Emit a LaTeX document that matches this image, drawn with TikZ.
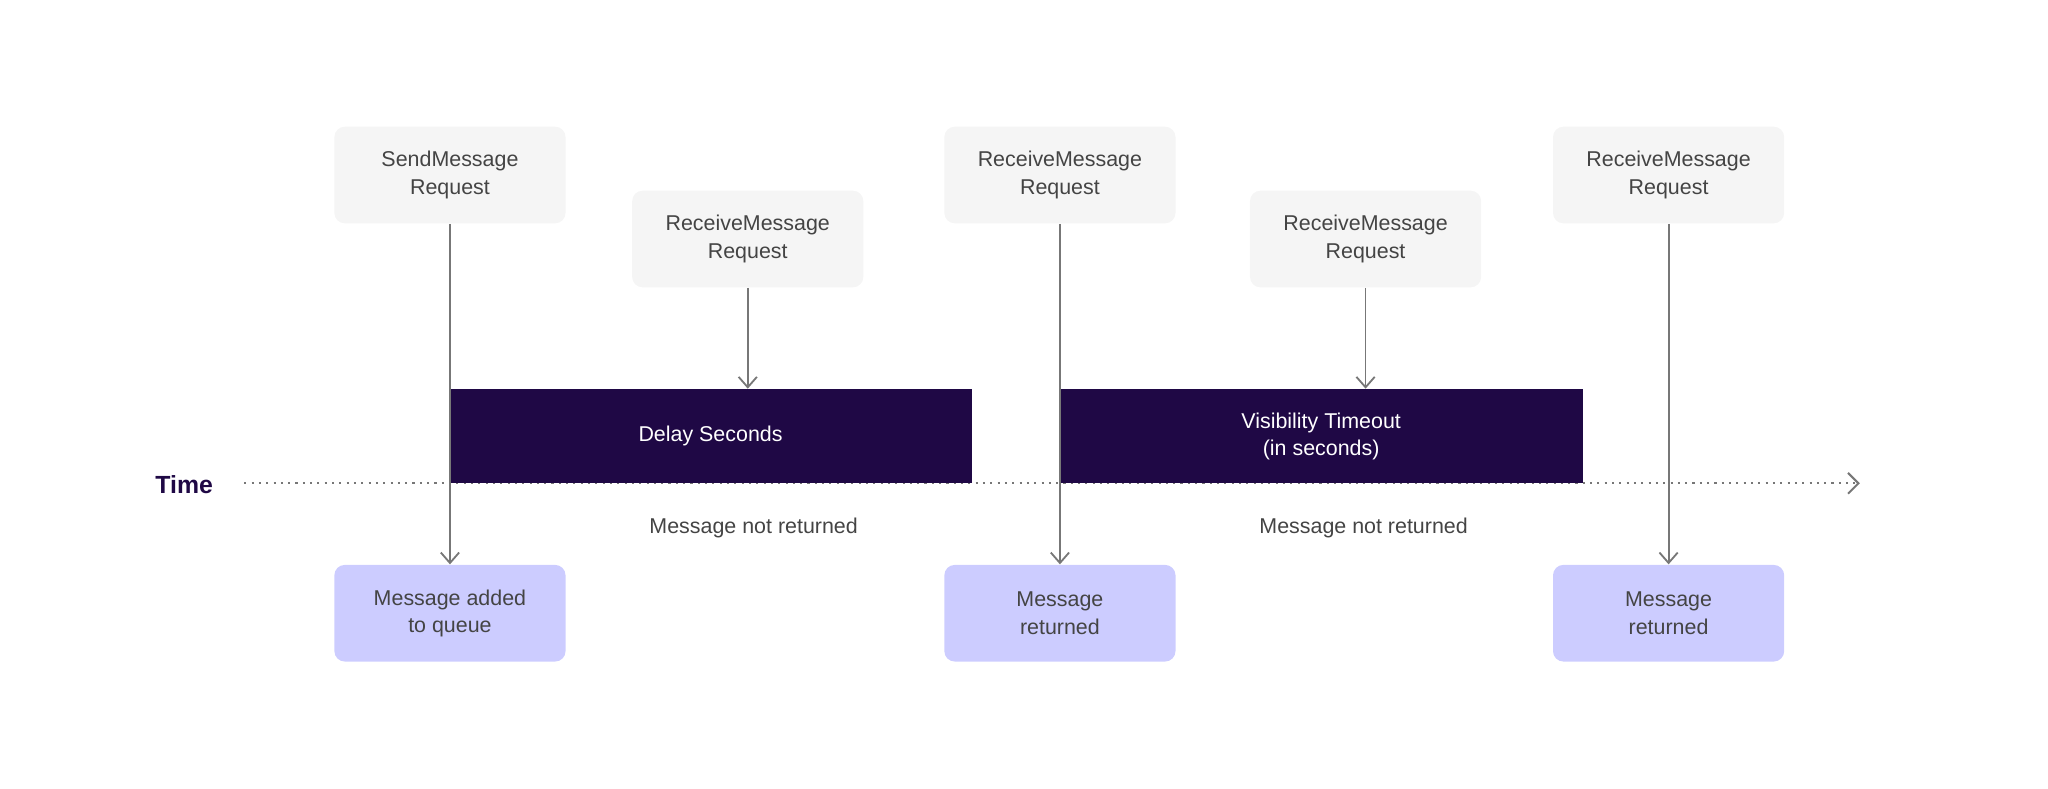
\documentclass[tikz,border=0pt]{standalone}
\usepackage{fontspec}
\setmainfont{Liberation Sans}
\usetikzlibrary{arrows.meta}
\definecolor{req}{HTML}{F5F5F5}
\definecolor{res}{HTML}{CCCCFF}
\definecolor{bar}{HTML}{1F0845}
\definecolor{txt}{HTML}{444444}
\definecolor{ln}{HTML}{777777}
\begin{document}
\begin{tikzpicture}[x=0.5pt,y=-0.5pt,
  box/.style={rounded corners=4pt,minimum width=88.5pt,minimum height=37pt,align=center,text=txt,font=\fontsize{8.2pt}{10.5pt}\selectfont,inner sep=0pt},
  rq/.style={box,fill=req},
  rs/.style={box,fill=res},
  barb/.style={fill=bar,minimum height=36pt,inner sep=0pt,align=center,text=white,font=\fontsize{8.2pt}{10.5pt}\selectfont},
  arr/.style={draw=ln,line width=0.7pt,-{Straight Barb[length=4pt,width=7pt]}},
  lbl/.style={text=txt,font=\fontsize{8.2pt}{10pt}\selectfont}]
\useasboundingbox (0,0) rectangle (1568,604);
\node[rq] (s1) at (344.5,134) {SendMessage\\Request};
\node[rq] (r2) at (572.5,183) {ReceiveMessage\\Request};
\node[rq] (r3) at (811.5,134) {ReceiveMessage\\Request};
\node[rq] (r4) at (1045.5,183) {ReceiveMessage\\Request};
\node[rq] (r5) at (1277.5,134) {ReceiveMessage\\Request};
\node[rs] (b1) at (344.5,469.5) {Message added\\to queue};
\node[rs] (b2) at (811.5,469.5) {Message\\returned};
\node[rs] (b3) at (1277.5,469.5) {Message\\returned};
\coordinate (t0) at (187,370);
\coordinate (t1) at (1424,370);
\draw[ln,line width=0.8pt,dotted,-{Straight Barb[length=4pt,width=8pt]}] (t0) -- (t1);
\node[barb,minimum width=200pt] (d1) at (544,334) {Delay Seconds};
\node[barb,minimum width=200.5pt] (d2) at (1011.5,334) {Visibility Timeout\\(in seconds)};
\node[font=\bfseries\fontsize{9.5pt}{11pt}\selectfont,text=bar] (time) at (141,371) {Time};
\draw[arr] (s1.south) -- (b1.north);
\draw[arr] (r3.south) -- (b2.north);
\draw[arr] (r5.south) -- (b3.north);
\draw[arr] (r2.south) -- (r2.south|-d1.north);
\draw[arr] (r4.south) -- (r4.south|-d2.north);
\node[lbl] (m1) at (577,404) {Message not returned};
\node[lbl] (m2) at (1044,404) {Message not returned};
\end{tikzpicture}
\end{document}
